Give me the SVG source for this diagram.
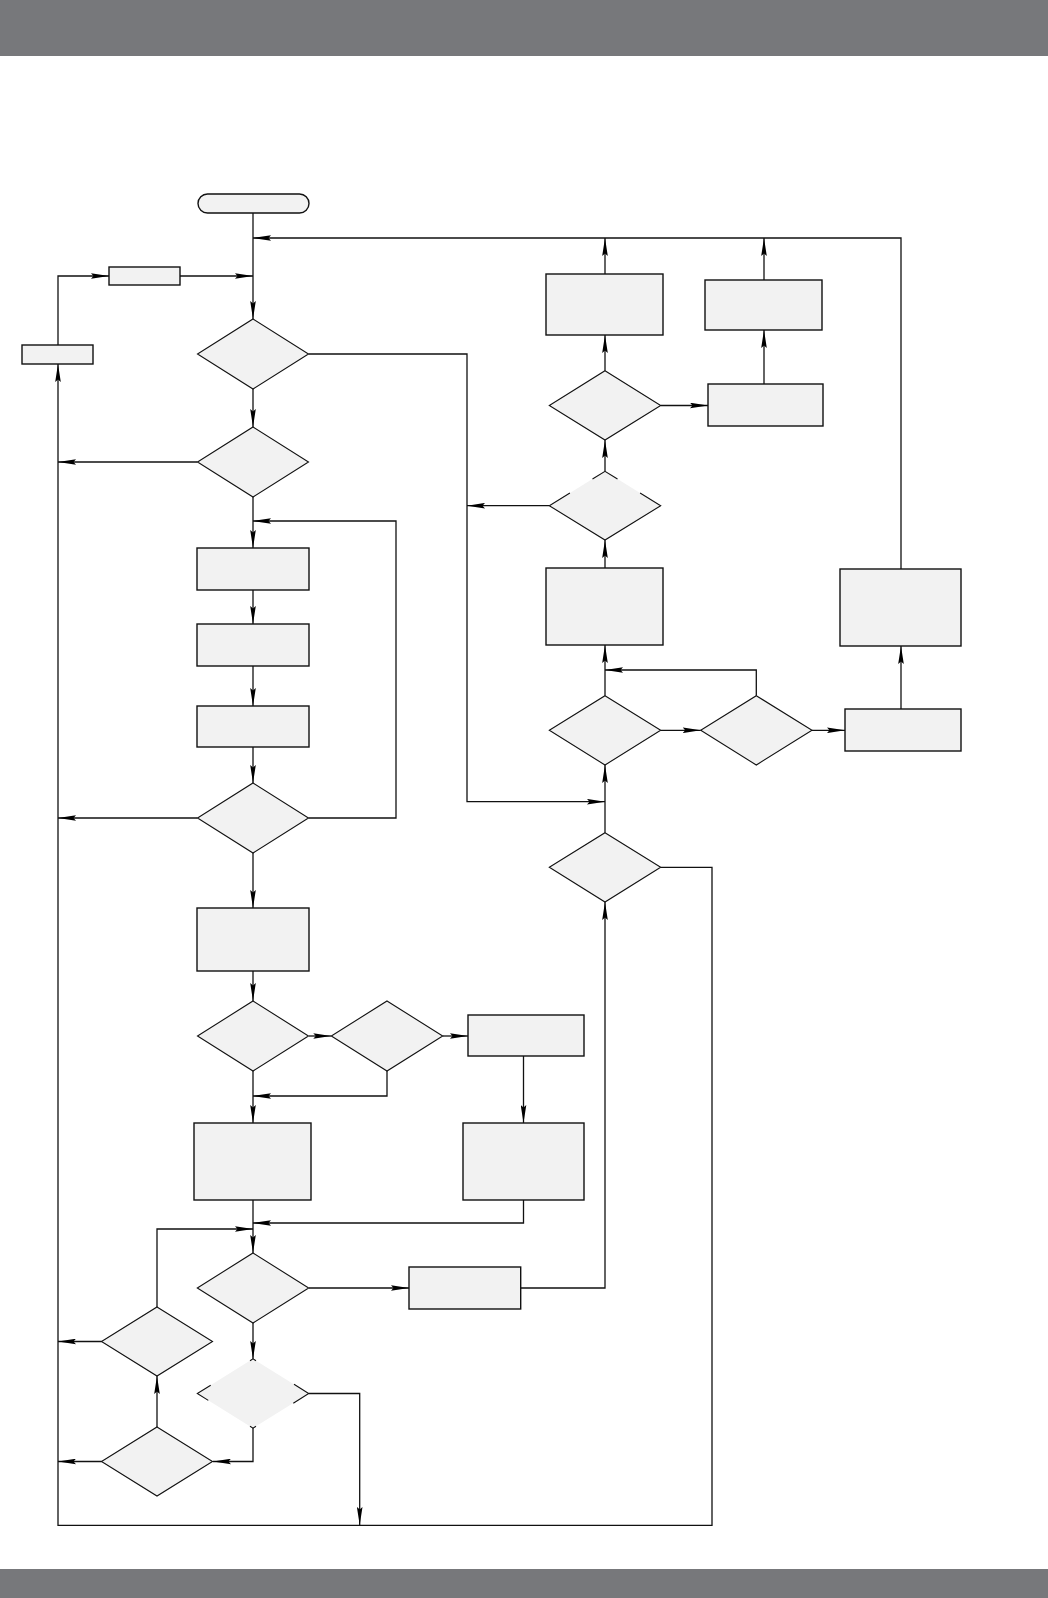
<svg xmlns="http://www.w3.org/2000/svg" width="1048" height="1598" viewBox="0 0 1048 1598">
<style>
.bar{fill:#77787b}
.n{fill:#f2f2f2;stroke:#111;stroke-width:1.4}
.d{fill:#f2f2f2;stroke:#111;stroke-width:1.1}
.nf{fill:#f2f2f2;stroke:none}
.ol{fill:none;stroke:#111;stroke-width:1.1}
.c{fill:none;stroke:#111;stroke-width:1.3}
.a{marker-end:url(#ah)}
</style>
<defs>
<marker id="ah" viewBox="0 0 18 6" refX="18" refY="3" markerWidth="18" markerHeight="6" markerUnits="userSpaceOnUse" orient="auto">
<path d="M0,0.2 L18,3 L0,5.8 L2.5,3 z" fill="#000"/>
</marker>
</defs>
<rect class="bar" x="0" y="0" width="1048" height="56"/>
<rect class="bar" x="0" y="1569" width="1048" height="29"/>
<rect x="0" y="56" width="1048" height="1513" fill="#fff"/>

<g id="connectors">
<path class="c a" d="M253,213 V319"/>
<path class="c a" d="M901,569 V238 H253"/>
<path class="c a" d="M605,274 V238"/>
<path class="c a" d="M764,280 V238"/>
<path class="c a" d="M58,345 V276 H109"/>
<path class="c a" d="M180,276 H253"/>
<path class="c a" d="M253,389 V427"/>
<path class="c a" d="M308.5,354 H467 V801.7 H605"/>
<path class="c a" d="M197.5,462 H58"/>
<path class="c a" d="M253,497 V548"/>
<path class="c a" d="M308.5,818 H396 V521 H253"/>
<path class="c a" d="M253,590 V624"/>
<path class="c a" d="M253,666 V706"/>
<path class="c a" d="M253,747 V783"/>
<path class="c a" d="M197.5,818 H58"/>
<path class="c a" d="M253,853 V908"/>
<path class="c a" d="M253,971 V1001"/>
<path class="c a" d="M309,1036 H331.3"/>
<path class="c a" d="M442.7,1036 H468"/>
<path class="c a" d="M387,1071 V1096 H253"/>
<path class="c a" d="M253,1071 V1123"/>
<path class="c a" d="M523.5,1056 V1123"/>
<path class="c a" d="M253,1200 V1253"/>
<path class="c a" d="M523.5,1200 V1223 H253"/>
<path class="c a" d="M157,1307 V1229 H253"/>
<path class="c a" d="M309,1288 H409"/>
<path class="c a" d="M520.7,1288 H605 V902"/>
<path class="c a" d="M253,1323 V1359"/>
<path class="c a" d="M101.7,1341.5 H58"/>
<path class="c a" d="M157,1427 V1376"/>
<path class="c a" d="M253,1428 V1461.5 H213"/>
<path class="c a" d="M101.7,1461.5 H58"/>
<path class="c a" d="M308.7,1393.5 H359.7 V1525"/>
<path class="c a" d="M660.7,867.3 H712 V1525.3 H58 V364"/>
<path class="c a" d="M605,832.7 V765"/>
<path class="c a" d="M605,695.7 V645"/>
<path class="c a" d="M756.3,695.7 V670 H605"/>
<path class="c a" d="M660.7,730.3 H700.7"/>
<path class="c a" d="M812,730.3 H845"/>
<path class="c a" d="M901,709 V646"/>
<path class="c a" d="M605,568 V540"/>
<path class="c a" d="M605,471.3 V440"/>
<path class="c a" d="M605,370.7 V335"/>
<path class="c a" d="M660.7,405.5 H708"/>
<path class="c a" d="M764,384 V330"/>
<path class="c a" d="M549.3,505.7 H467"/>
</g>

<g id="start"><rect class="n" x="198" y="194" width="111" height="19" rx="9.5"/></g>
<g id="box-s1"><rect class="n" x="109" y="267" width="71" height="18"/></g>
<g id="box-s2"><rect class="n" x="22" y="345" width="71" height="19"/></g>
<g id="dec-1"><polygon class="d" points="253,319 308.5,354 253,389 197.5,354"/></g>
<g id="dec-2"><polygon class="d" points="253,427 308.5,462 253,497 197.5,462"/></g>
<g id="box-g1"><rect class="n" x="197" y="548" width="112" height="42"/></g>
<g id="box-g2"><rect class="n" x="197" y="624" width="112" height="42"/></g>
<g id="box-g3"><rect class="n" x="197" y="706" width="112" height="41"/></g>
<g id="dec-8"><polygon class="d" points="253,783 308.5,818 253,853 197.5,818"/></g>
<g id="box-h"><rect class="n" x="197" y="908" width="112" height="63"/></g>
<g id="dec-9"><polygon class="d" points="253,1001 308.5,1036 253,1071 197.5,1036"/></g>
<g id="dec-10"><polygon class="d" points="387,1001 442.7,1036 387,1071 331.3,1036"/></g>
<g id="box-i"><rect class="n" x="468" y="1015" width="116" height="41"/></g>
<g id="box-k"><rect class="n" x="194" y="1123" width="117" height="77"/></g>
<g id="box-j"><rect class="n" x="463" y="1123" width="121" height="77"/></g>
<g id="dec-11"><polygon class="d" points="253,1253 308.7,1288 253,1323 197.3,1288"/></g>
<g id="box-l"><rect class="n" x="409" y="1267" width="111.7" height="42"/></g>
<g id="dec-12"><polygon class="d" points="157,1307 212.5,1341.5 157,1376 101.5,1341.5"/></g>
<g id="dec-13">
<polygon class="nf" points="253,1358.8 308.7,1393.5 253,1428.2 197.3,1393.5"/>
<path class="ol" d="M210.7,1385.2 L197.3,1393.5 L208.3,1400.4 M294,1384.2 L308.7,1393.5 L293.3,1403.3 M250,1360.7 L253,1358.8 L256,1360.7 M250,1426.3 L253,1428.2 L256,1426.3"/>
</g>
<g id="dec-14"><polygon class="d" points="157,1427 212.5,1461.5 157,1496 101.5,1461.5"/></g>
<g id="box-a"><rect class="n" x="546" y="274" width="117" height="61"/></g>
<g id="box-b"><rect class="n" x="705" y="280" width="117" height="50"/></g>
<g id="box-c"><rect class="n" x="708" y="384" width="115" height="42"/></g>
<g id="dec-3"><polygon class="d" points="605,370.7 660.7,405.5 605,440 549.3,405.5"/></g>
<g id="dec-4">
<polygon class="nf" points="605,471.3 660.7,505.7 605,540 549.3,505.7"/>
<path class="ol" d="M592.5,479 L605,471.3 L617.5,479 M640.1,493 L660.7,505.7 L605,540 L549.3,505.7 L569.9,493"/>
</g>
<g id="box-d"><rect class="n" x="546" y="568" width="117" height="77"/></g>
<g id="box-e"><rect class="n" x="840" y="569" width="121" height="77"/></g>
<g id="dec-5"><polygon class="d" points="605,695.7 660.7,730.3 605,765 549.3,730.3"/></g>
<g id="dec-6"><polygon class="d" points="756.3,695.7 812,730.3 756.3,765 700.7,730.3"/></g>
<g id="box-f"><rect class="n" x="845" y="709" width="116" height="42"/></g>
<g id="dec-7"><polygon class="d" points="605,832.7 660.7,867.3 605,902 549.3,867.3"/></g>
</svg>
